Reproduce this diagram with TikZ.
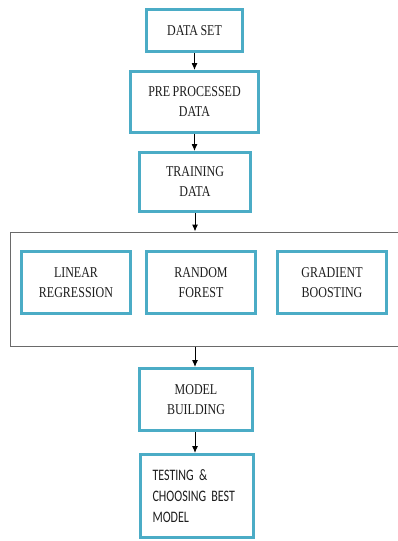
\documentclass[tikz,border=0pt]{standalone}
\usepackage{fontspec}
\usetikzlibrary{arrows.meta}
\newfontfamily\boxserif[FakeStretch=0.8, WordSpace=0.8]{Liberation Serif}
\newfontfamily\boxsans[FakeStretch=0.75, WordSpace=0.6]{Carlito}
\definecolor{boxblue}{HTML}{4BACC6}
\definecolor{textgray}{HTML}{1E1E1E}
\definecolor{framegray}{HTML}{6A6A6A}
\tikzset{
  stepbox/.style={draw=boxblue, line width=3pt, fill=white, rectangle,
    inner sep=2pt, align=center, text=textgray,
    font=\boxserif\fontsize{15}{20}\selectfont},
  groupframe/.style={draw=framegray, line width=1pt, rectangle, inner sep=0pt},
  flow/.style={line width=1pt, -{Latex[length=7pt,width=6pt]}}
}
\begin{document}
\begin{tikzpicture}[x=1pt, y=-1pt]
  \useasboundingbox (0,0) rectangle (397,541);
  % main pipeline
  \node[stepbox, minimum width=96pt, minimum height=42pt] (ds) at (194.5,30.5) {DATA SET};
  \node[stepbox, minimum width=128pt, minimum height=61pt] (pre) at (194.5,102) {PRE PROCESSED\\DATA};
  \node[stepbox, minimum width=111pt, minimum height=59pt] (train) at (195,182) {TRAINING\\DATA};
  % group of models
  \node[groupframe, minimum width=410pt, minimum height=114pt] (models) at (215,289) {};
  \node[stepbox, minimum width=109pt, minimum height=62pt] (lr) at (76,282.5) {LINEAR\\REGRESSION};
  \node[stepbox, minimum width=109pt, minimum height=62pt] (rf) at (201,282.5) {RANDOM\\FOREST};
  \node[stepbox, minimum width=109pt, minimum height=62pt] (gb) at (332,282.5) {GRADIENT\\BOOSTING};
  \node[stepbox, minimum width=113pt, minimum height=62pt] (mb) at (196,399.5) {MODEL\\BUILDING};
  \node[stepbox, minimum width=113pt, minimum height=83pt, align=left,
        inner xsep=12pt, text width=89pt,
        font=\boxsans\fontsize{16}{21}\selectfont] (test) at (197,496)
        {TESTING \&\\CHOOSING BEST\\MODEL};
  % connectors
  \draw[flow] (ds.south) -- (ds.south |- pre.north);
  \draw[flow] (pre.south) -- (pre.south |- train.north);
  \draw[flow] (train.south) -- (train.south |- models.north);
  \draw[flow] (models.south -| train.south) -- (train.south |- mb.north);
  \draw[flow] (mb.south -| train.south) -- (train.south |- test.north);
\end{tikzpicture}
\end{document}
